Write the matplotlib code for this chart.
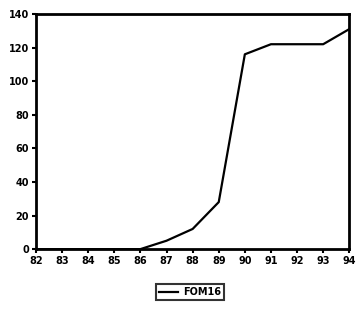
import matplotlib
matplotlib.use("Agg")
import matplotlib.pyplot as plt

years = [82, 83, 84, 85, 86, 87, 88, 89, 90, 91, 92, 93, 94]
values = [0, 0, 0, 0, 0, 5, 12, 28, 116, 122, 122, 122, 131]
xticklabels = ["82", "83", "84", "85", "86", "87", "88", "89", "90", "91", "92", "93", "94"]
yticks = [0, 20, 40, 60, 80, 100, 120, 140]
series_name = "FOM16"

plt.rcParams['font.family'] = ['DejaVu Sans']
fig = plt.figure(figsize=(3.58, 3.11), dpi=100)
ax = fig.add_axes([0.1006, 0.199, 0.875, 0.756])
line, = ax.plot(years, values, color="black", lw=1.6, label=series_name)
ax.set_xlim(82, 94)
ax.set_ylim(0, 140)
ax.set_xticks(years)
ax.set_xticklabels(xticklabels)
ax.set_yticks(yticks)
for s in ax.spines.values():
    s.set_linewidth(2)
    s.set_color("black")
ax.tick_params(axis="both", direction="out", length=3, width=1.5, labelsize=7, pad=2)
for lab in ax.get_xticklabels() + ax.get_yticklabels():
    lab.set_fontweight("bold")
leg = fig.legend(handles=[line], labels=[series_name], loc="center",
                 bbox_to_anchor=(0.53, 0.06), fancybox=False, edgecolor="black",
                 handlelength=2.0, handletextpad=0.5, borderpad=0.3,
                 prop={"size": 7, "weight": "bold"})
leg.get_frame().set_linewidth(1.5)
fig.savefig("out.png", dpi=100)
